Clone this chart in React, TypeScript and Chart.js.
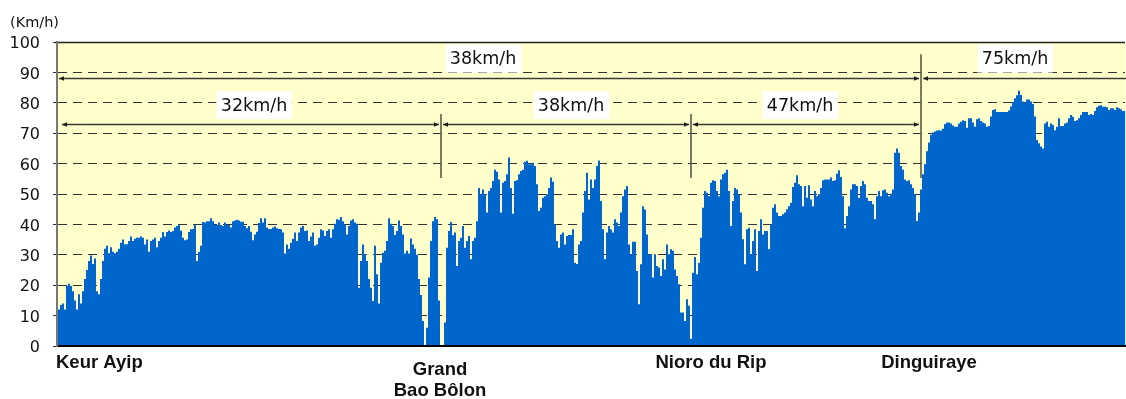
import React, { useEffect, useRef } from "react";
import { Chart, registerables } from "chart.js";

Chart.register(...registerables);

// Speed (km/h) sampled at equal steps along the route, in route order
const speedPart1 = [
  9, 12, 13.5, 14, 12, 19.7, 20.5, 19.7, 18, 15,
  12, 17, 14, 18, 22, 25, 28, 29.8, 27, 28.8,
  18, 17, 22, 28, 32, 33, 30.5, 32.5, 31, 30.5,
  31, 32, 34, 35, 33.5, 33.5, 34.5, 36, 34.5, 35.3,
  35.6, 35.6, 36, 35.6, 33.4, 35, 31, 34.5, 35, 35.6,
  32.5, 34.5, 35.6, 37.5, 36, 37.5, 38, 37.5, 37.8, 39,
  39.5, 40, 38, 35.6, 34.8, 35, 37.5, 38.4, 38.5, 40,
  28, 31, 33, 40.8, 40.6, 41, 41, 42, 41, 39.8,
  39.8, 40.6, 39.8, 39.5, 40.6, 39.8, 39.8, 39, 41,
];
const speedPart2 = [
  41.3, 41.5, 41.3, 40.9, 40.9, 39.5, 38.7, 39.5, 37.6, 34.8,
  36.7, 37.6, 40.5, 42, 40.6, 42, 39, 38.5, 38.5, 39,
  39.3, 38.7, 38.5, 38.4, 37.3, 30.4, 33.4, 32, 34, 35.3,
  37.3, 34.5, 37.3, 39, 39.5, 37.8, 38, 34.5, 36, 37.3,
  33, 33.4, 35.6, 38.4, 38, 36.2, 37.8, 38.4, 35.6, 38.4,
  40.2, 41.7, 41.5, 42.4, 41, 40, 36.7, 39.5, 41.3, 41.7,
  40.6, 40.2, 19.2, 28, 33.4, 30.2, 28, 22, 19.2, 14.8,
  33, 23.6, 14, 27.4, 30.7, 31.3, 34.5, 42, 40.2, 39.5,
  36.5, 37.8, 41.3, 39.5, 36.7, 30.4, 31.3, 30.4, 35.4, 33.4,
];
const speedPart3 = [
  32, 30, 22, 16.8, 8.2, 0, 6, 22.5, 34.5, 41,
  42.4, 41.7, 15, 0, 0, 7.7, 32.3, 37.8, 40.8, 36.4,
  37.3, 26.3, 34.5, 35.6, 39.5, 32.3, 34.5, 36.2, 28.5, 34.5,
  35.6, 41, 52, 49.9, 51.5, 49.9, 43.9, 51, 52, 54.3,
  58, 57.3, 54.8, 43.9, 53.7, 54.3, 56.5, 62, 52, 43.5,
  54.3, 54.5, 56.5, 57.6, 58, 60.6, 60.9, 59.8, 59.8, 60.3,
  59.2, 53.2, 44.4, 45.5, 48.8, 49.3, 49.9, 52, 55.4, 54,
  40, 34.5, 32.3, 36.7, 37.3, 33.4, 36.2, 36.5, 36.5, 38.4,
  27.4, 27, 33.4, 34.5, 43.9, 51, 57, 48.2, 54.8, 52,
];
const speedPart4 = [
  54.8, 59.2, 61, 47.7, 38.4, 28.5, 37.3, 39.5, 38.4, 37.3,
  41.7, 40.6, 39.5, 43.9, 49.3, 51.5, 52.6, 33.4, 30.2, 34.3,
  34.3, 24.7, 13.7, 26.9, 46, 44.9, 36.7, 30.2, 30.2, 22.5,
  30.2, 26.3, 25.8, 23, 28.5, 25.2, 33.4, 30.2, 31.8, 31.3,
  25.2, 23, 20.3, 11, 11, 8.2, 15.4, 13.2, 2.4, 24.1,
  29.3, 23.6, 27.4, 35.6, 45.5, 51, 50.4, 49.3, 53.7, 54.5,
  54.3, 51, 49.3, 54.8, 56.5, 57, 58, 51, 39.5, 47.7,
  52, 51.5, 49.9, 43.9, 35.1, 26.9, 38.4, 38.9, 30.2, 34.5,
  38.4, 24.7, 37.8, 41.7, 36.7, 37.8, 37.8, 31.8, 40, 45.5,
];
const speedPart5 = [
  46.6, 43.9, 42.8, 42.8, 43.3, 43.9, 45, 46, 47.1, 52.3,
  53.7, 56.2, 53.2, 52.6, 46, 52.6, 48.8, 52.9, 48.2, 46,
  51, 49.3, 49.9, 52, 54.5, 54.8, 54.8, 54.8, 55.4, 54.3,
  54.5, 56.7, 57.8, 55.6, 49.3, 38.7, 42.8, 46, 51.5, 53.2,
  53.2, 52.6, 48.8, 52.6, 54.3, 53.2, 48.8, 47.7, 47.7, 46.6,
  41.7, 49.3, 51, 49.3, 51.2, 51.5, 50.4, 49.3, 50.1, 51.5,
  63.6, 65, 63.6, 59.2, 58, 54.8, 54.3, 54.5, 53.2, 52,
  49.9, 41.1, 43.9, 51.5, 56.5, 59.8, 64.1, 66.9, 69.5, 70.2,
  70.6, 70.9, 71, 70.9, 71.5, 73, 73.5, 73.5, 73.2, 72.5,
];
const speedPart6 = [
  72.1, 72.1, 73.2, 73.8, 74.3, 74, 71.8, 74.9, 74.9, 73.5,
  72.1, 74.6, 74.9, 74, 73.5, 73.2, 72.1, 72.4, 75.5, 77.6,
  77.9, 77, 77, 77, 77, 77, 77, 77.5, 78.8, 80.3,
  81.5, 82.5, 84, 82.6, 80.4, 80, 81.1, 81.1, 80.4, 79.6,
  75.5, 67.8, 66.7, 65.6, 65, 73.2, 73.8, 72.1, 73.2, 72.7,
  71, 72.1, 74.9, 72.4, 72.4, 73.2, 73.5, 74.9, 76, 75.4,
  74, 74.3, 74.9, 76, 77, 77, 77, 76, 76.3, 76,
  77.3, 78.5, 79, 79.2, 78.7, 78.7, 78.5, 77.6, 78.2, 78.2,
  77.6, 78.5, 78.2, 77.9, 77.3, 77.3,
];

const speeds = [
  ...speedPart1, ...speedPart2, ...speedPart3,
  ...speedPart4, ...speedPart5, ...speedPart6,
];
const sampleLabels = speeds.map((_, i) => String(i));

// Stations (position given as sample index)
const stationNames = ["Keur Ayip", "Grand\nBao Bôlon", "Nioro du Rip", "Dinguiraye"];
const stationLabelAt = [0, 191.5, 327, 436];
const markerAt = [192, 317, 432];
const markerTop = [76.3, 76.3, 96];
const markerBottom = 55.3;

// Section average speeds
const rowLevel = [88.3, 73];
const sectionRow = [0, 0, 1, 1, 1];
const sectionFrom = [0, 432, 0, 192, 317];
const sectionTo = [432, 534, 192, 317, 432];
const sectionSpeed = ["38km/h", "75km/h", "32km/h", "38km/h", "47km/h"];
const sectionLabelAt = [213, 479, 98.5, 257, 371.5];

const yMin = 0;
const yMax = 100;
const yStep = 10;
const unitLabel = "(Km/h)";

const W = 1126;
const H = 399;

const decorPlugin = {
  id: "decor",
  beforeDraw(chart: any) {
    const { ctx, chartArea: a } = chart;
    ctx.save();
    ctx.fillStyle = "#ffffff";
    ctx.fillRect(0, 0, chart.width, chart.height);
    ctx.fillStyle = "#FFFFCC";
    ctx.fillRect(a.left, a.top, a.right - a.left, a.bottom - a.top);
    ctx.restore();
  },
  afterDatasetsDraw(chart: any) {
    const { ctx, chartArea: a } = chart;
    const xs = chart.scales.x;
    const ys = chart.scales.y;
    ctx.save();
    // top frame line
    ctx.strokeStyle = "#222";
    ctx.lineWidth = 1.5;
    ctx.beginPath();
    ctx.moveTo(a.left - 2, a.top + 0.5);
    ctx.lineTo(a.right, a.top + 0.5);
    ctx.stroke();

    // station marker lines
    ctx.strokeStyle = "rgba(100,100,80,0.85)";
    ctx.lineWidth = 2;
    markerAt.forEach((m, i) => {
      const x = Math.round(xs.getPixelForValue(m));
      ctx.beginPath();
      ctx.moveTo(x, ys.getPixelForValue(markerTop[i]));
      ctx.lineTo(x, ys.getPixelForValue(markerBottom));
      ctx.stroke();
    });

    // section arrows
    const arrowHead = (tipX: number, y: number, dir: number) => {
      ctx.beginPath();
      ctx.moveTo(tipX, y);
      ctx.lineTo(tipX - dir * 5, y - 2.2);
      ctx.lineTo(tipX - dir * 5, y + 2.2);
      ctx.closePath();
      ctx.fill();
    };
    ctx.strokeStyle = "#3a3a30";
    ctx.fillStyle = "#1a1a1a";
    ctx.lineWidth = 1.3;
    sectionFrom.forEach((from, i) => {
      const row = sectionRow[i];
      const y = Math.round(ys.getPixelForValue(rowLevel[row])) + 0.5;
      let x1 = xs.getPixelForValue(from);
      let x2 = xs.getPixelForValue(sectionTo[i]);
      x1 = from === 0 ? a.left + (row === 0 ? 2 : 5) : x1 + 2;
      x2 = sectionTo[i] >= speeds.length - 1 ? a.right + 6 : x2 - 2;
      ctx.beginPath();
      ctx.moveTo(x1, y);
      ctx.lineTo(x2, y);
      ctx.stroke();
      arrowHead(x1, y, -1);
      arrowHead(x2, y, 1);
    });

    // section labels
    ctx.font = "17.5px 'DejaVu Sans'";
    ctx.textAlign = "center";
    ctx.textBaseline = "middle";
    sectionSpeed.forEach((txt, i) => {
      const row = sectionRow[i];
      const cx = xs.getPixelForValue(sectionLabelAt[i]);
      const cy = ys.getPixelForValue(rowLevel[row]) - 19;
      const w = ctx.measureText(txt).width + 9;
      ctx.fillStyle = "#ffffff";
      ctx.fillRect(cx - w / 2, cy - 14, w, 28);
      ctx.fillStyle = "#111";
      ctx.fillText(txt, cx, cy + 1);
    });
    ctx.restore();
  },
  afterDraw(chart: any) {
    const { ctx } = chart;
    const xs = chart.scales.x;
    const bottom = chart.chartArea.bottom;
    ctx.save();
    ctx.fillStyle = "#111";
    ctx.font = "bold 18.5px 'Liberation Sans', Arial, sans-serif";
    ctx.textBaseline = "alphabetic";
    stationNames.forEach((name, i) => {
      const x = xs.getPixelForValue(stationLabelAt[i]);
      const lines = name.split("\n");
      ctx.textAlign = i === 0 ? "left" : "center";
      const x0 = i === 0 ? chart.chartArea.left - 1 : x;
      const first = lines.length > 1 ? bottom + 29 : bottom + 22;
      lines.forEach((ln, k) => ctx.fillText(ln, x0, first + k * 21));
    });
    ctx.font = "14.5px 'DejaVu Sans'";
    ctx.textAlign = "left";
    ctx.fillStyle = "#111";
    ctx.fillText(unitLabel, 10, 27);
    ctx.restore();
  },
};

export default function App() {
  const ref = useRef<HTMLCanvasElement>(null);
  useEffect(() => {
    document.body.style.margin = "0";
    const chart = new Chart(ref.current as HTMLCanvasElement, {
      type: "line",
      data: {
        labels: sampleLabels,
        datasets: [
          {
            data: speeds,
            fill: "origin",
            backgroundColor: "#0066CC",
            borderColor: "#0066CC",
            borderWidth: 0,
            pointRadius: 0,
            stepped: "middle",
          },
        ],
      },
      options: {
        animation: false,
        responsive: false,
        layout: { padding: { top: 42, right: 1, left: 0, bottom: 0 } },
        plugins: {
          legend: { display: false },
          tooltip: { enabled: false },
        },
        scales: {
          x: {
            type: "category",
            ticks: { display: false },
            grid: { display: false },
            border: { display: true, color: "#000", width: 2, z: 1 },
            afterFit: (s: any) => {
              s.height = 53;
            },
          },
          y: {
            min: yMin,
            max: yMax,
            ticks: {
              stepSize: yStep,
              color: "#111",
              font: { family: "'DejaVu Sans'", size: 16 },
              padding: 13,
              labelOffset: 2,
            },
            grid: {
              color: (c: any) =>
                c.tick && (c.tick.value === yMin || c.tick.value === yMax)
                  ? "rgba(0,0,0,0)"
                  : "#333",
              tickColor: "#333",
              tickLength: 4,
              tickBorderDash: [],
              lineWidth: 1,
            },
            border: { display: true, color: "#777", width: 2, dash: [9, 6], z: 1 },
            afterFit: (s: any) => {
              s.width = 57;
            },
          },
        },
      },
      plugins: [decorPlugin],
    } as any);
    return () => chart.destroy();
  }, []);
  return (
    <div style={{ width: W, height: H }}>
      <canvas ref={ref} width={W} height={H} style={{ width: W, height: H, display: "block" }} />
    </div>
  );
}
